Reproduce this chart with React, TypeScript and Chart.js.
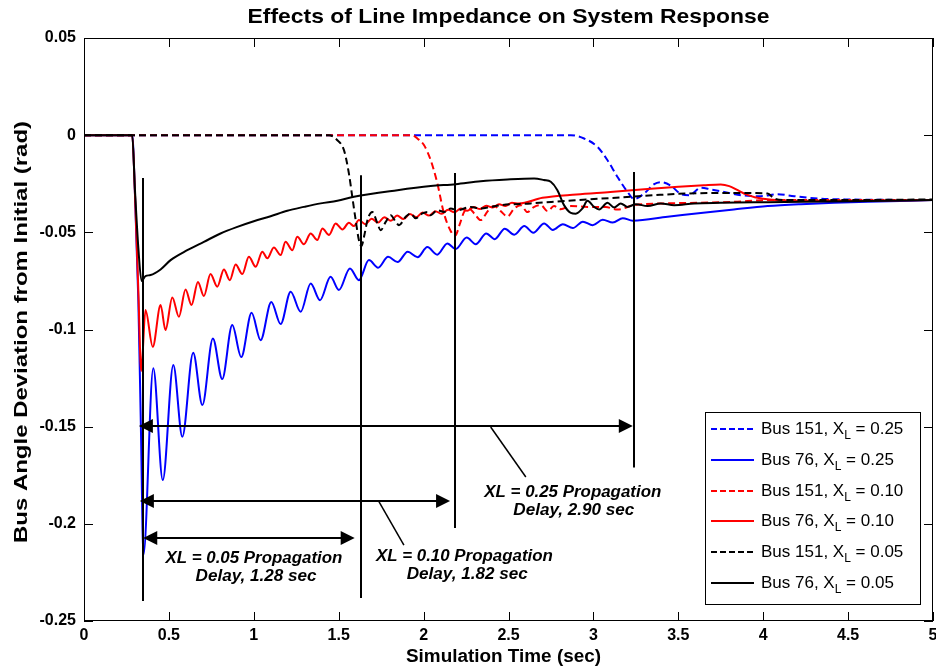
import React, { useEffect, useRef } from "react";
import { Chart, registerables } from "chart.js";
Chart.register(...registerables);

// ---------- axis ticks ----------
const xTicks = [0, 0.5, 1, 1.5, 2, 2.5, 3, 3.5, 4, 4.5, 5];
const xTickLabels = ["0", "0.5", "1", "1.5", "2", "2.5", "3", "3.5", "4", "4.5", "5"];
const yTicks = [0.05, 0, -0.05, -0.1, -0.15, -0.2, -0.25];
const yTickLabels = ["0.05", "0", "-0.05", "-0.1", "-0.15", "-0.2", "-0.25"];

// ---------- series (time s, deviation rad) ----------
const blueDashT = [0, 2.867, 2.945, 3.024, 3.083, 3.142, 3.201, 3.24, 3.299, 3.358, 3.397, 3.456, 3.515, 3.564, 3.633, 3.692, 3.77, 3.869, 3.986, 4.085, 4.183, 4.321, 4.517, 5.0];
const blueDashV = [0, 0, -0.0017, -0.006, -0.0129, -0.0215, -0.0292, -0.0329, -0.03, -0.0252, -0.0242, -0.026, -0.0303, -0.0309, -0.027, -0.0279, -0.0292, -0.0309, -0.0314, -0.0304, -0.0314, -0.0326, -0.0331, -0.0334];

const blueSolidT = [0, 0.284, 0.3, 0.32, 0.335, 0.35, 0.408, 0.464, 0.526, 0.579, 0.643, 0.697, 0.759, 0.814, 0.873, 0.926, 0.987, 1.04, 1.103, 1.158, 1.217, 1.276, 1.335, 1.39, 1.452, 1.501, 1.566, 1.619, 1.678, 1.732, 1.791, 1.847, 1.906, 1.965, 2.022, 2.08, 2.14, 2.189, 2.254, 2.307, 2.369, 2.419, 2.478, 2.534, 2.593, 2.646, 2.71, 2.761, 2.82, 2.879, 2.938, 2.996, 3.055, 3.114, 3.173, 3.232, 3.437, 3.633, 3.827, 4.026, 4.222, 4.418, 4.615, 5.0];
const blueSolidV = [0, 0, -0.03, -0.085, -0.15, -0.216, -0.12, -0.1775, -0.1183, -0.1552, -0.112, -0.1389, -0.1046, -0.1255, -0.0977, -0.1142, -0.0914, -0.1055, -0.0858, -0.0972, -0.0806, -0.0909, -0.0763, -0.0849, -0.0729, -0.0797, -0.0686, -0.0746, -0.0643, -0.0682, -0.0626, -0.0653, -0.06, -0.0628, -0.0576, -0.0615, -0.0557, -0.0586, -0.0527, -0.0561, -0.0506, -0.0535, -0.0481, -0.0512, -0.0468, -0.0502, -0.0454, -0.0488, -0.0458, -0.0478, -0.0445, -0.0463, -0.0435, -0.045, -0.0427, -0.044, -0.042, -0.04, -0.0382, -0.0365, -0.0355, -0.0348, -0.0343, -0.0334];

const redDashT = [0, 1.934, 1.963, 2.002, 2.042, 2.081, 2.12, 2.16, 2.186, 2.213, 2.238, 2.266, 2.301, 2.336, 2.378, 2.415, 2.454, 2.494, 2.533, 2.572, 2.612, 2.649, 2.69, 2.73, 2.768, 2.808, 2.867, 2.965, 3.073, 3.142, 3.24, 3.437, 3.633, 3.829, 4.026, 5.0];
const redDashV = [0, 0, -0.0017, -0.0051, -0.0129, -0.0248, -0.0403, -0.0494, -0.0517, -0.0458, -0.0396, -0.0376, -0.0406, -0.0437, -0.0391, -0.0365, -0.0391, -0.0419, -0.0378, -0.036, -0.0396, -0.037, -0.036, -0.0391, -0.0365, -0.0381, -0.0365, -0.0369, -0.037, -0.0383, -0.036, -0.0351, -0.0348, -0.0343, -0.0334, -0.0334];

const redSolidT = [0, 0.284, 0.3, 0.32, 0.337, 0.362, 0.405, 0.451, 0.48, 0.52, 0.559, 0.598, 0.633, 0.671, 0.706, 0.745, 0.785, 0.824, 0.859, 0.893, 0.932, 0.971, 1.011, 1.05, 1.08, 1.118, 1.158, 1.187, 1.227, 1.256, 1.295, 1.335, 1.374, 1.404, 1.443, 1.482, 1.522, 1.56, 1.59, 1.619, 1.657, 1.694, 1.732, 1.769, 1.807, 1.844, 1.882, 1.919, 1.957, 1.994, 2.032, 2.069, 2.107, 2.144, 2.182, 2.219, 2.257, 2.294, 2.332, 2.369, 2.407, 2.444, 2.482, 2.52, 2.56, 2.7, 2.9, 3.1, 3.3, 3.5, 3.65, 3.75, 3.8, 3.85, 3.9, 3.95, 4.05, 4.3, 4.6, 5.0];
const redSolidV = [0, 0, -0.03, -0.08, -0.1214, -0.09, -0.1089, -0.0874, -0.1003, -0.0835, -0.0935, -0.0794, -0.0874, -0.0755, -0.0828, -0.0715, -0.078, -0.0691, -0.0746, -0.0665, -0.0715, -0.0626, -0.0677, -0.06, -0.0634, -0.0578, -0.0617, -0.0549, -0.0592, -0.0523, -0.0561, -0.0506, -0.054, -0.048, -0.0514, -0.0454, -0.0485, -0.0451, -0.0468, -0.0437, -0.0458, -0.043, -0.045, -0.0422, -0.0441, -0.0414, -0.0432, -0.0406, -0.0422, -0.0398, -0.0414, -0.0391, -0.0405, -0.0384, -0.0397, -0.0377, -0.0389, -0.037, -0.038, -0.0363, -0.0372, -0.0356, -0.0364, -0.0348, -0.0352, -0.0322, -0.0305, -0.0292, -0.0278, -0.0266, -0.0258, -0.0254, -0.0262, -0.0283, -0.0305, -0.0319, -0.0332, -0.0337, -0.0336, -0.0334];

const blackDashT = [0, 1.443, 1.492, 1.531, 1.56, 1.58, 1.6, 1.619, 1.634, 1.649, 1.671, 1.698, 1.728, 1.747, 1.777, 1.806, 1.836, 1.855, 1.895, 1.924, 1.953, 1.993, 2.022, 2.042, 2.081, 2.12, 2.16, 2.199, 2.278, 2.336, 2.395, 2.454, 2.631, 2.768, 2.965, 3.161, 3.358, 3.554, 3.829, 4.026, 4.065, 4.144, 4.417, 5.0];
const blackDashV = [0, 0, -0.0026, -0.0077, -0.0197, -0.0317, -0.0437, -0.054, -0.0571, -0.0523, -0.0432, -0.0395, -0.0454, -0.0489, -0.0446, -0.0412, -0.0446, -0.0463, -0.042, -0.0403, -0.0428, -0.0403, -0.0395, -0.0412, -0.0386, -0.0395, -0.0377, -0.0386, -0.0369, -0.0377, -0.0369, -0.036, -0.0351, -0.0343, -0.0331, -0.032, -0.0309, -0.03, -0.0297, -0.03, -0.0326, -0.0334, -0.0334, -0.0331];

const blackSolidT = [0, 0.284, 0.3, 0.32, 0.339, 0.362, 0.392, 0.451, 0.51, 0.608, 0.706, 0.804, 0.903, 1.0, 1.099, 1.197, 1.295, 1.394, 1.492, 1.59, 1.846, 2.042, 2.189, 2.336, 2.494, 2.651, 2.709, 2.749, 2.788, 2.827, 2.867, 2.896, 2.936, 2.965, 3.004, 3.034, 3.083, 3.122, 3.161, 3.201, 3.25, 3.319, 3.397, 3.476, 3.593, 3.75, 4.026, 4.516, 5.0];
const blackSolidV = [0, 0, -0.028, -0.058, -0.075, -0.0725, -0.072, -0.0691, -0.0643, -0.0592, -0.0549, -0.0506, -0.0472, -0.0443, -0.0417, -0.0389, -0.0369, -0.0351, -0.0338, -0.0317, -0.0283, -0.0262, -0.0252, -0.0237, -0.0228, -0.0223, -0.0231, -0.024, -0.0283, -0.036, -0.04, -0.0404, -0.0377, -0.0338, -0.0369, -0.0382, -0.0348, -0.0372, -0.0351, -0.0369, -0.0355, -0.0365, -0.0351, -0.036, -0.0351, -0.0348, -0.0345, -0.034, -0.0334];

// ---------- legend ----------
const legendBus = ["Bus 151", "Bus 76", "Bus 151", "Bus 76", "Bus 151", "Bus 76"];
const legendXL = ["0.25", "0.25", "0.10", "0.10", "0.05", "0.05"];

// ---------- annotations (data units) ----------
const markerT = [0.35, 1.629, 2.183, 3.241];
const markerTop = [-0.0221, -0.0206, -0.0195, -0.019];
const markerBottom = [-0.2397, -0.2382, -0.2022, -0.171];
const arrowY = [-0.2074, -0.1881, -0.1497];
const arrowStart = [0.349, 0.329, 0.323];
const arrowEnd = [1.594, 2.156, 3.232];
const leaderX1 = [1.737, 2.395];
const leaderY1 = [-0.1886, -0.1502];
const leaderX2 = [1.884, 2.602];
const leaderY2 = [-0.2109, -0.1759];
const noteText = ["XL = 0.05 Propagation", "Delay, 1.28 sec", "XL = 0.10 Propagation", "Delay, 1.82 sec", "XL = 0.25 Propagation", "Delay, 2.90 sec"];
const noteX = [1.0006, 1.0136, 2.2404, 2.2569, 2.8786, 2.8845];
const noteY = [-0.2177, -0.2272, -0.2169, -0.2263, -0.1838, -0.1932];

const FONT = "'Liberation Sans', Arial, sans-serif";

function fitText(ctx: CanvasRenderingContext2D, text: string, x: number, y: number, w: number) {
  const m = ctx.measureText(text).width;
  const s = w > 0 ? w / m : 1;
  ctx.save();
  ctx.translate(x, y);
  ctx.scale(s, 1);
  ctx.fillText(text, 0, 0);
  ctx.restore();
}

const decoPlugin = {
  id: "deco",
  afterDatasetsDraw(chart: any) {
    const { ctx, chartArea: a, scales } = chart;
    const xs = scales.x, ys = scales.y;
    ctx.save();
    ctx.beginPath();
    ctx.rect(a.left, a.top, a.right - a.left, a.bottom - a.top);
    ctx.clip();
    ctx.strokeStyle = "#000";
    ctx.fillStyle = "#000";
    ctx.lineWidth = 2;
    markerT.forEach((t, i) => {
      const px = Math.round(xs.getPixelForValue(t));
      ctx.beginPath();
      ctx.moveTo(px, ys.getPixelForValue(markerTop[i]));
      ctx.lineTo(px, ys.getPixelForValue(markerBottom[i]));
      ctx.stroke();
    });
    const head = (tx: number, py: number, dir: number) => {
      ctx.beginPath();
      ctx.moveTo(tx, py);
      ctx.lineTo(tx + dir * 14, py - 7);
      ctx.lineTo(tx + dir * 14, py + 7);
      ctx.closePath();
      ctx.fill();
    };
    arrowY.forEach((v, i) => {
      const py = Math.round(ys.getPixelForValue(v));
      const x1 = xs.getPixelForValue(arrowStart[i]);
      const x2 = xs.getPixelForValue(arrowEnd[i]);
      ctx.beginPath();
      ctx.moveTo(x1 + 10, py);
      ctx.lineTo(x2 - 10, py);
      ctx.stroke();
      head(x1, py, 1);
      head(x2, py, -1);
    });
    ctx.lineWidth = 1.5;
    leaderX1.forEach((t, i) => {
      ctx.beginPath();
      ctx.moveTo(xs.getPixelForValue(t), ys.getPixelForValue(leaderY1[i]));
      ctx.lineTo(xs.getPixelForValue(leaderX2[i]), ys.getPixelForValue(leaderY2[i]));
      ctx.stroke();
    });
    ctx.font = `italic bold 16px ${FONT}`;
    ctx.textAlign = "center";
    ctx.textBaseline = "middle";
    noteText.forEach((s, i) => {
      fitText(ctx, s, xs.getPixelForValue(noteX[i]), ys.getPixelForValue(noteY[i]), i % 2 === 0 ? 177 : 121);
    });
    ctx.restore();
  },
  afterDraw(chart: any) {
    const { ctx, chartArea: a, scales } = chart;
    const xs = scales.x, ys = scales.y;
    ctx.save();
    // box
    ctx.strokeStyle = "#000";
    ctx.lineWidth = 1;
    ctx.strokeRect(a.left + 0.5, a.top + 0.5, a.right - a.left - 1, a.bottom - a.top - 1);
    // inward ticks
    const tl = 9;
    ctx.beginPath();
    xTicks.forEach((v) => {
      const px = Math.round(xs.getPixelForValue(v)) + 0.5;
      ctx.moveTo(px, a.bottom);
      ctx.lineTo(px, a.bottom - tl);
      ctx.moveTo(px, a.top);
      ctx.lineTo(px, a.top + tl);
    });
    yTicks.forEach((v) => {
      const py = Math.round(ys.getPixelForValue(v)) + 0.5;
      ctx.moveTo(a.left, py);
      ctx.lineTo(a.left + tl, py);
      ctx.moveTo(a.right, py);
      ctx.lineTo(a.right - tl, py);
    });
    ctx.stroke();

    // legend
    const colors = ["#0000ff", "#0000ff", "#ff0000", "#ff0000", "#000000", "#000000"];
    const lw = 215, lh = 192;
    const lx = a.right - 13 - lw, ly = a.bottom - 17 - lh;
    ctx.fillStyle = "#fff";
    ctx.fillRect(lx, ly, lw, lh);
    ctx.strokeStyle = "#000";
    ctx.lineWidth = 1;
    ctx.strokeRect(lx + 0.5, ly + 0.5, lw, lh);
    legendBus.forEach((bus, i) => {
      const cy = Math.round(ly + 17 + i * 30.8);
      ctx.strokeStyle = colors[i];
      ctx.lineWidth = 2;
      ctx.setLineDash(i % 2 === 0 ? [6, 3] : []);
      ctx.beginPath();
      ctx.moveTo(lx + 6, cy);
      ctx.lineTo(lx + 49, cy);
      ctx.stroke();
      ctx.setLineDash([]);
      ctx.fillStyle = "#000";
      ctx.textAlign = "left";
      ctx.textBaseline = "middle";
      ctx.font = `17px ${FONT}`;
      let tx = lx + 56;
      const s1 = `${bus}, X`;
      ctx.fillText(s1, tx, cy);
      tx += ctx.measureText(s1).width;
      ctx.font = `12px ${FONT}`;
      ctx.fillText("L", tx, cy + 7);
      tx += ctx.measureText("L").width;
      ctx.font = `17px ${FONT}`;
      ctx.fillText(` = ${legendXL[i]}`, tx, cy);
    });

    // titles
    ctx.fillStyle = "#000";
    ctx.textAlign = "center";
    ctx.textBaseline = "middle";
    ctx.font = `bold 21px ${FONT}`;
    fitText(ctx, "Effects of Line Impedance on System Response", (a.left + a.right) / 2 + 0, 17, 522);
    ctx.font = `bold 18px ${FONT}`;
    fitText(ctx, "Simulation Time (sec)", (a.left + a.right) / 2 - 5, 657, 195);
    ctx.save();
    ctx.translate(22, 332);
    ctx.rotate(-Math.PI / 2);
    ctx.font = `bold 18px ${FONT}`;
    fitText(ctx, "Bus Angle Deviation from Initial (rad)", 0, 0, 422);
    ctx.restore();
    ctx.restore();
  },
};

const mk = (t: number[], v: number[]) => t.map((x, i) => ({ x, y: v[i] }));

export default function App() {
  const ref = useRef<HTMLCanvasElement | null>(null);
  useEffect(() => {
    if (!ref.current) return;
    const common = { borderWidth: 2, pointRadius: 0, fill: false, cubicInterpolationMode: "monotone" as const };
    const chart = new Chart(ref.current, {
      type: "line",
      data: {
        datasets: [
          { ...common, label: "Bus 151, XL = 0.25", data: mk(blueDashT, blueDashV), borderColor: "#0000ff", borderDash: [7, 4], order: 6 },
          { ...common, label: "Bus 76, XL = 0.25", data: mk(blueSolidT, blueSolidV), borderColor: "#0000ff", order: 5 },
          { ...common, label: "Bus 151, XL = 0.10", data: mk(redDashT, redDashV), borderColor: "#ff0000", borderDash: [7, 4], order: 4 },
          { ...common, label: "Bus 76, XL = 0.10", data: mk(redSolidT, redSolidV), borderColor: "#ff0000", order: 3 },
          { ...common, label: "Bus 151, XL = 0.05", data: mk(blackDashT, blackDashV), borderColor: "#000000", borderDash: [7, 4], order: 2 },
          { ...common, label: "Bus 76, XL = 0.05", data: mk(blackSolidT, blackSolidV), borderColor: "#000000", order: 1 },
        ],
      },
      options: {
        animation: false,
        responsive: false,
        events: [],
        layout: { padding: { left: 0, right: 3, top: 38, bottom: 0 } },
        plugins: { legend: { display: false }, tooltip: { enabled: false }, title: { display: false } },
        scales: {
          x: {
            type: "linear",
            min: 0,
            max: 5,
            grid: { display: false, drawTicks: false },
            border: { display: false },
            afterBuildTicks: (s: any) => { s.ticks = xTicks.map((v) => ({ value: v })); },
            afterFit: (s: any) => { s.height = 48; s.paddingLeft = 0; s.paddingRight = 0; },
            ticks: {
              padding: 5,
              color: "#000",
              maxRotation: 0,
              autoSkip: false,
              font: { family: FONT, size: 16, weight: "bold" },
              callback: (_v: any, i: number) => xTickLabels[i],
            },
          },
          y: {
            type: "linear",
            min: -0.25,
            max: 0.05,
            grid: { display: false, drawTicks: false },
            border: { display: false },
            afterBuildTicks: (s: any) => { s.ticks = yTicks.map((v) => ({ value: v })); },
            afterFit: (s: any) => { s.width = 84; s.paddingTop = 0; s.paddingBottom = 0; },
            ticks: {
              padding: 8,
              color: "#000",
              autoSkip: false,
              font: { family: FONT, size: 16, weight: "bold" },
              callback: (_v: any, i: number) => yTickLabels[i],
            },
          },
        },
      },
      plugins: [decoPlugin],
    });
    return () => chart.destroy();
  }, []);
  return (
    <div style={{ position: "fixed", left: 0, top: 0, width: 936, height: 669, background: "#fff" }}>
      <canvas ref={ref} width={936} height={669} style={{ display: "block" }} />
    </div>
  );
}
